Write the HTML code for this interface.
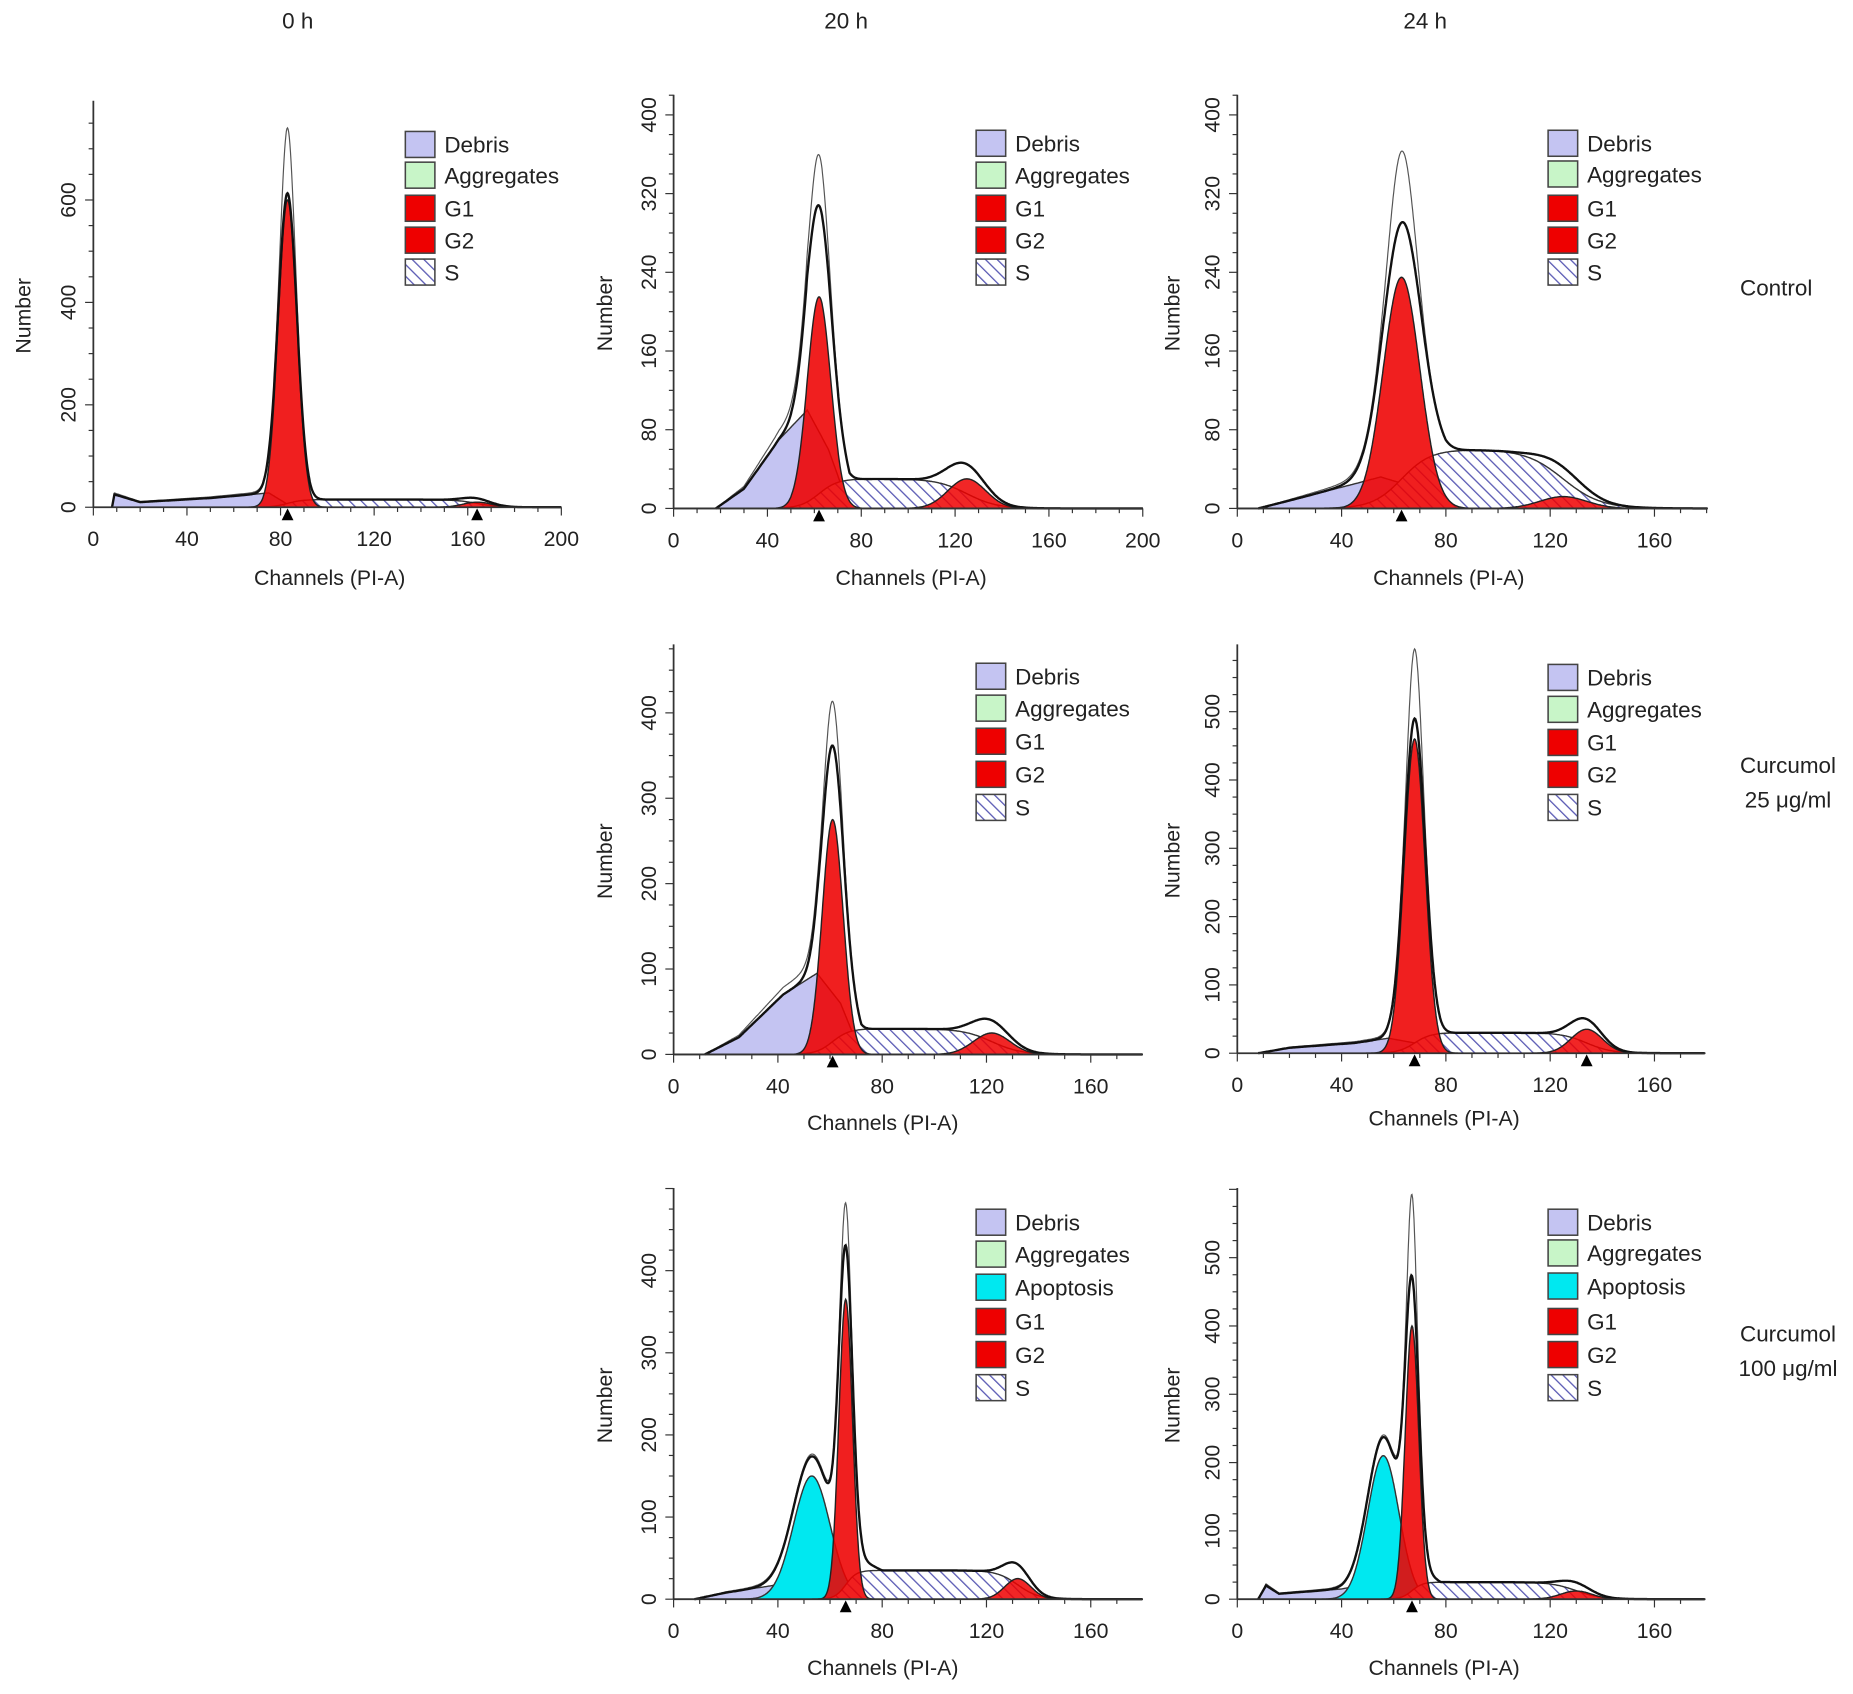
<!DOCTYPE html>
<html><head><meta charset="utf-8"><style>
html,body{margin:0;padding:0;background:#fff}
svg{display:block}
text{font-family:"Liberation Sans",Arial,sans-serif;fill:#222}
</style></head><body>
<svg id="fig" width="1853" height="1694" viewBox="0 0 1568 1433" xmlns="http://www.w3.org/2000/svg">
<defs>
<pattern id="hatch" patternUnits="userSpaceOnUse" width="7" height="7" patternTransform="rotate(-45)">
<rect width="7" height="7" fill="#fff"/><line x1="0" y1="0" x2="0" y2="7" stroke="#5a5ab4" stroke-width="2.2"/>
</pattern>
</defs>
<text x="252" y="24" font-size="19" text-anchor="middle">0 h</text>
<text x="716" y="24" font-size="19" text-anchor="middle">20 h</text>
<text x="1206" y="24" font-size="19" text-anchor="middle">24 h</text>
<text x="1503" y="250" font-size="19" text-anchor="middle">Control</text>
<text x="1513" y="654" font-size="19" text-anchor="middle">Curcumol</text>
<text x="1513" y="683" font-size="19" text-anchor="middle">25 μg/ml</text>
<text x="1513" y="1135" font-size="19" text-anchor="middle">Curcumol</text>
<text x="1513" y="1164" font-size="19" text-anchor="middle">100 μg/ml</text>
</svg>
<script>
// ---- data (per panel) ----
const panelNames = ["control-0h","control-20h","control-24h","cur25-20h","cur25-24h","cur100-20h","cur100-24h"];
const g1Mean = [83,62,63,61,68,66,67];
const g1Height = [600,215,235,275,460,365,400];
const g1Sd = [4,5,7,4,4,2.6,2.6];
const g2Mean = [164,125,125,122,134,132,130];
const g2Height = [10,30,12,25,35,25,12];
const g2Sd = [6,8,9,7,6,5,6];
const sHeight = [15,30,60,30,30,35,25];
const rawPeak = [740,350,360,405,590,480,590];
const apoMean = [0,0,0,0,0,53,56];
const apoHeight = [0,0,0,0,0,150,210];
const apoSd = [1,1,1,1,1,7,6];
const debrisC = [[8,9,20,50,75,85],[18,30,45,57,66,75],[8,20,45,55,70,80],[12,25,42,55,64,72],[8,20,45,58,68,78],[8,20,45,62,70,80],[8,11,16,40,60,70,78]];
const debrisV = [[0,25,10,18,28,0],[0,20,70,100,60,0],[0,8,25,32,20,0],[0,20,70,95,60,0],[0,8,15,22,15,0],[0,8,20,28,15,0],[0,20,8,15,30,18,0]];
const xTicks = [[0,40,80,120,160,200],[0,40,80,120,160,200],[0,40,80,120,160],[0,40,80,120,160],[0,40,80,120,160],[0,40,80,120,160],[0,40,80,120,160]];
const yTicks = [[0,200,400,600],[0,80,160,240,320,400],[0,80,160,240,320,400],[0,100,200,300,400],[0,100,200,300,400,500],[0,100,200,300,400],[0,100,200,300,400,500]];
const legendItems = [["Debris","Aggregates","G1","G2","S"],["Debris","Aggregates","Apoptosis","G1","G2","S"]];
// ---- layout ----
const L = [
 {x0:79,xPx:475,xMax:200,y0:429,yTop:85,yRef:600,yRefPx:169,leg:343,legY:[122,148,176,203,230],li:0,yt:18,xl:279,xly:495},
 {x0:570,xPx:967,xMax:200,y0:430,yTop:80,yRef:400,yRefPx:97,leg:826,legY:[121,148,176,203,230],li:0,yt:510,xl:771,xly:495},
 {x0:1047,xPx:1400,xMax:160,xEnd:1445,y0:430,yTop:80,yRef:400,yRefPx:97,leg:1310,legY:[121,147,176,203,230],li:0,yt:990,xl:1226,xly:495},
 {x0:570,xPx:923,xMax:160,xEnd:967,y0:892,yTop:545,yRef:400,yRefPx:603,leg:826,legY:[572,599,627,655,683],li:0,yt:510,xl:747,xly:956},
 {x0:1047,xPx:1400,xMax:160,xEnd:1443,y0:891,yTop:545,yRef:500,yRefPx:602,leg:1310,legY:[573,600,628,655,683],li:0,yt:990,xl:1222,xly:952},
 {x0:570,xPx:923,xMax:160,xEnd:967,y0:1353,yTop:1005,yRef:400,yRefPx:1075,leg:826,legY:[1034,1061,1089,1118,1146,1174],li:1,yt:510,xl:747,xly:1417},
 {x0:1047,xPx:1400,xMax:160,xEnd:1443,y0:1353,yTop:1005,yRef:500,yRefPx:1064,leg:1310,legY:[1034,1060,1088,1118,1146,1174],li:1,yt:990,xl:1222,xly:1417}
];
const NS="http://www.w3.org/2000/svg";
const svg=document.getElementById('fig');
function mk(tag,attrs,parent){const e=document.createElementNS(NS,tag);for(const k in attrs)e.setAttribute(k,attrs[k]);(parent||svg).appendChild(e);return e;}
function gauss(c,m,h,s){return h*Math.exp(-0.5*((c-m)/s)**2);}
function lin(c,xs,vs){if(c<=xs[0]||c>=xs[xs.length-1])return 0;for(let i=1;i<xs.length;i++){if(c<=xs[i]){const t=(c-xs[i-1])/(xs[i]-xs[i-1]);return vs[i-1]+t*(vs[i]-vs[i-1]);}}return 0;}
function sig(z){return 1/(1+Math.exp(-z));}
for(let p=0;p<7;p++){
 const l=L[p];
 const g=mk('g',{});
 
 
 const xEnd=l.xEnd||l.xPx;
 const sx=c=>l.x0+c*(l.xPx-l.x0)/l.xMax;
 const sy=v=>l.y0-v*(l.y0-l.yRefPx)/l.yRef;
 const cMax=(xEnd-l.x0)/(l.xPx-l.x0)*l.xMax;
 const deb=c=>lin(c,debrisC[p],debrisV[p]);
 const apo=c=>apoHeight[p]?gauss(c,apoMean[p],apoHeight[p],apoSd[p]):0;
 const g1=c=>gauss(c,g1Mean[p],g1Height[p],g1Sd[p]);
 const g2=c=>gauss(c,g2Mean[p],g2Height[p],g2Sd[p]);
 const sp=c=>sHeight[p]*sig((c-g1Mean[p])/(g1Sd[p]*0.8))*sig((g2Mean[p]-c)/(g2Sd[p]*0.8));
 const tot=c=>deb(c)+apo(c)+g1(c)+g2(c)+sp(c);
 const step=0.25;
 function area(f,name,fill,stroke,op){
  let d='M'+sx(0)+','+sy(0);
  for(let c=0;c<=cMax;c+=step)d+=' L'+sx(c).toFixed(1)+','+sy(f(c)).toFixed(1);
  d+=' L'+sx(cMax)+','+sy(0)+' Z';
  const e=mk('path',{d:d,fill:fill,stroke:stroke,'stroke-width':1.2,'fill-opacity':op||1},g);
  
  
 }
 area(deb,'debris-area','#c4c4f2','#333');
 if(apoHeight[p]) area(apo,'apoptosis-area','#00e8f0','#333');
 area(sp,'s-phase-area','url(#hatch)','#333');
 area(g1,'g1-area','#ee0000','#222',0.88);
 area(g2,'g2-area','#ee0000','#222',0.85);
 const scale=(rawPeak[p]-tot(g1Mean[p]))/g1Height[p];
 let d='';
 for(let c=debrisC[p][0];c<=cMax;c+=step){const v=tot(c)+scale*gauss(c,g1Mean[p],g1Height[p],g1Sd[p]*0.6)+0.12*deb(c);d+=(d?' L':'M')+sx(c).toFixed(1)+','+sy(v).toFixed(1);}
 const raw=mk('path',{d:d,fill:'none',stroke:'#555','stroke-width':1},g);
 
 
 d='';
 for(let c=debrisC[p][0];c<=cMax;c+=step){d+=(d?' L':'M')+sx(c).toFixed(1)+','+sy(tot(c)).toFixed(1);}
 const fit=mk('path',{d:d,fill:'none',stroke:'#111','stroke-width':2},g);
 
 
 [g1Mean[p],g2Mean[p]].forEach((m,i)=>{
  if(p>=1&&p!==4&&i===1)return;
  const x=sx(m);
  const t=mk('path',{d:`M${x-5},${l.y0+11} L${x+5},${l.y0+11} L${x},${l.y0+1} Z`,fill:'#000'},g);
  
  
 });
 const ax=mk('g',{},g);
 
 
 mk('line',{x1:l.x0,y1:l.y0,x2:xEnd,y2:l.y0,stroke:'#333','stroke-width':1.5},ax);
 mk('line',{x1:l.x0,y1:l.y0,x2:l.x0,y2:l.yTop,stroke:'#333','stroke-width':1.5},ax);
 const xStepMinor=xTicks[p][1]/4;
 for(let c=0;c<=cMax+0.01;c+=xStepMinor){mk('line',{x1:sx(c),y1:l.y0,x2:sx(c),y2:l.y0+(c%xTicks[p][1]===0?7:4),stroke:'#333','stroke-width':1},ax);}
 xTicks[p].forEach(v=>{const t=mk('text',{x:sx(v),y:l.y0+33,'font-size':18,'text-anchor':'middle'},ax);t.textContent=v;
  
  });
 const yStep=yTicks[p][1];
 const yMaxV=(l.y0-l.yTop)/(l.y0-l.yRefPx)*l.yRef;
 for(let v=0;v<=yMaxV;v+=yStep/4){mk('line',{x1:l.x0,y1:sy(v),x2:l.x0-(Math.abs(v%yStep)<1e-6?7:4),y2:sy(v),stroke:'#333','stroke-width':1},ax);}
 yTicks[p].forEach(v=>{const y=sy(v);const t=mk('text',{x:l.x0-15,y:y,'font-size':18,'text-anchor':'middle',transform:`rotate(-90 ${l.x0-15} ${y})`},ax);t.textContent=v;
  
  });
 const yl=(l.y0+l.yTop)/2+10;
 const yt=mk('text',{x:l.yt+8,y:yl,'font-size':18,'text-anchor':'middle',transform:`rotate(-90 ${l.yt+8} ${yl})`},g);yt.textContent='Number';
 
 
 const xt=mk('text',{x:l.xl,y:l.xly,'font-size':18,'text-anchor':'middle'},g);xt.textContent='Channels (PI-A)';
 
 
 const lg=mk('g',{},g);
 
 
 legendItems[l.li].forEach((name,i)=>{
  const y=l.legY[i];
  const fill={Debris:'#c4c4f2',Aggregates:'#c8f5c8',Apoptosis:'#00e8f0',G1:'#ee0000',G2:'#ee0000',S:'url(#hatch)'}[name];
  const r=mk('rect',{x:l.leg,y:y-11,width:25,height:22,fill:fill,stroke:'#444','stroke-width':1.3},lg);
  
  
  const t=mk('text',{x:l.leg+33,y:y+7,'font-size':19},lg);t.textContent=name;
  
  
 });
}
</script>
</body></html>
